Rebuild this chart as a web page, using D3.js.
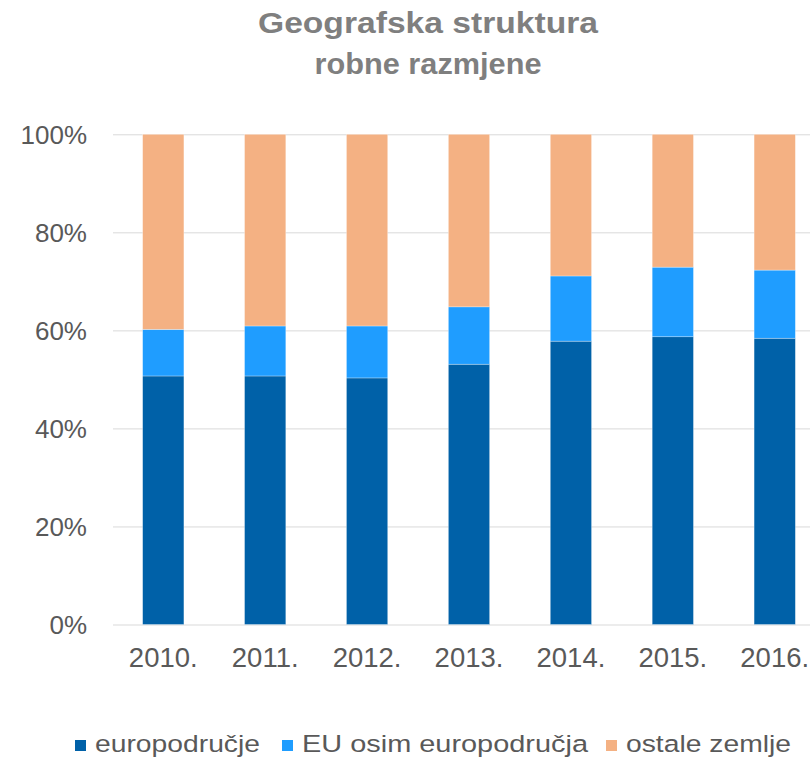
<!DOCTYPE html>
<html>
<head>
<meta charset="utf-8">
<script src="https://cdn.jsdelivr.net/npm/d3@7"></script>
<style>
  html, body { margin: 0; padding: 0; background: #fff; }
  svg { display: block; font-family: "Liberation Sans", Arial, sans-serif; }
</style>
</head>
<body>
<svg id="chart" width="810" height="760"></svg>
<script>
const categories = ["2010.", "2011.", "2012.", "2013.", "2014.", "2015.", "2016."];
const europodrucje = [50.7, 50.7, 50.3, 53.1, 57.8, 58.7, 58.4];
const euOsim = [9.5, 10.2, 10.6, 11.7, 13.3, 14.2, 13.9];
const ostale = [39.8, 39.1, 39.1, 35.2, 28.9, 27.1, 27.7];
const seriesNames = ["europodručje", "EU osim europodručja", "ostale zemlje"];
const seriesKeys = ["euro", "eu", "ost"];
const colors = ["#0061A8", "#1F9DFF", "#F4B183"];
const yTicks = [0, 20, 40, 60, 80, 100];
const titleLines = ["Geografska struktura", "robne razmjene"];

const svg = d3.select("#chart");
const rows = categories.map((c, i) => ({cat: c, euro: europodrucje[i], eu: euOsim[i], ost: ostale[i]}));
const stack = d3.stack().keys(seriesKeys);
const stacked = stack(rows);

const x = d3.scaleBand().domain(categories).range([82, 856]).paddingInner(0.595).paddingOuter(0.595);
const y = d3.scaleLinear().domain([0, 100]).range([624.5, 134.3]);

// gridlines
const yAxis = d3.axisLeft(y).tickValues(yTicks).tickSize(-(810 - 113)).tickFormat(d => d + "%").tickPadding(26);
const gy = svg.append("g").attr("transform", "translate(113,0)").call(yAxis);
gy.select(".domain").remove();
gy.selectAll(".tick line").attr("stroke", "#d9d9d9").attr("stroke-width", 1);
gy.selectAll(".tick text").attr("fill", "#595959").attr("font-size", 26).attr("font-family", "Liberation Sans, Arial, sans-serif").attr("dy", "0.35em");

// bars
svg.append("g").selectAll("g").data(stacked).join("g")
  .attr("fill", (d, i) => colors[i])
  .selectAll("rect").data(d => d).join("rect")
  .attr("x", d => x(d.data.cat))
  .attr("width", x.bandwidth())
  .attr("y", d => y(d[1]))
  .attr("height", d => y(d[0]) - y(d[1]))
  .attr("stroke", "#ffffff").attr("stroke-opacity", 0.5).attr("stroke-width", 0.6);

// x axis labels
const xAxis = d3.axisBottom(x).tickSize(0).tickPadding(0);
const gx = svg.append("g").attr("transform", "translate(0,624.5)").call(xAxis);
gx.select(".domain").remove();
gx.selectAll(".tick text").attr("fill", "#595959").attr("font-size", 27.5)
  .attr("font-family", "Liberation Sans, Arial, sans-serif").attr("dy", null).attr("y", 42.5);

// title
const titleWidths = [340, 227];
svg.append("g").selectAll("text").data(titleLines).join("text")
  .attr("x", 428).attr("y", (d, i) => 33 + i * 41)
  .attr("text-anchor", "middle")
  .attr("font-size", 29).attr("font-weight", "bold").attr("fill", "#7f7f7f")
  .attr("textLength", (d, i) => titleWidths[i]).attr("lengthAdjust", "spacingAndGlyphs")
  .text(d => d);

// legend
const legendSquareX = [75, 282, 606];
const legendTextW = [165, 286, 165];
const lg = svg.append("g").selectAll("g").data(seriesNames).join("g")
  .attr("transform", (d, i) => `translate(${legendSquareX[i]},740)`);
lg.append("rect").attr("width", 11).attr("height", 11).attr("fill", (d, i) => colors[i]);
lg.append("text").attr("x", 20).attr("y", 12).attr("font-size", 24.5).attr("fill", "#595959")
  .attr("textLength", (d, i) => legendTextW[i]).attr("lengthAdjust", "spacingAndGlyphs")
  .text(d => d);
</script>
</body>
</html>
